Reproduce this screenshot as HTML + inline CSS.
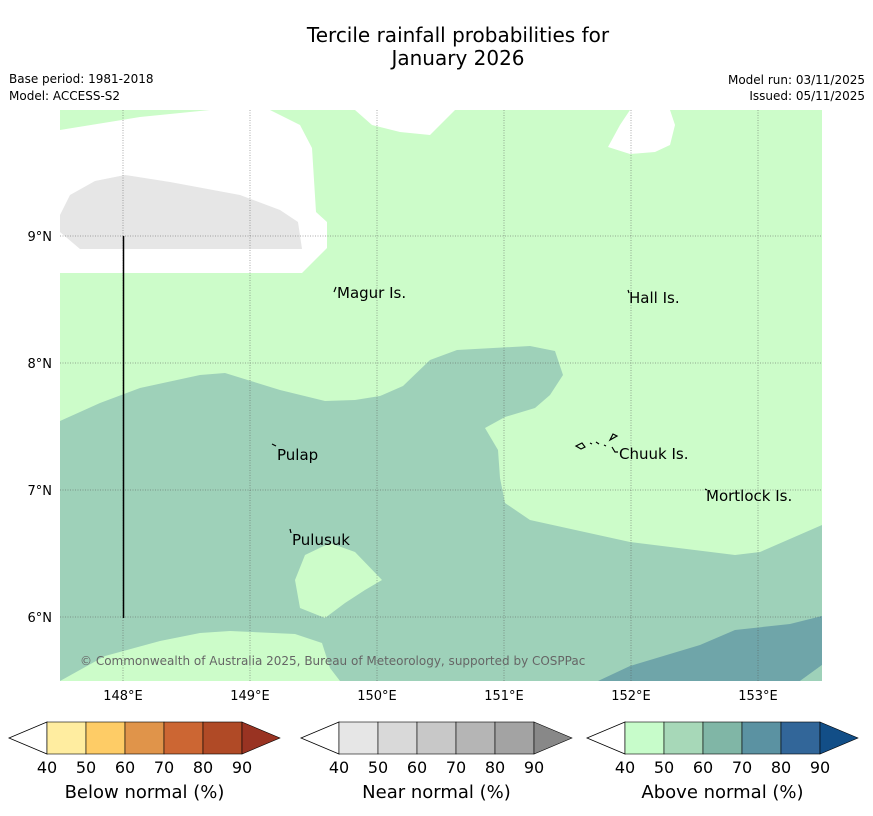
<!DOCTYPE html>
<html><head><meta charset="utf-8"><style>
body{margin:0;background:#fff;font-family:"DejaVu Sans","Liberation Sans",sans-serif}
svg{display:block}
</style></head><body>
<svg width="873" height="816" viewBox="0 0 873 816" font-family="DejaVu Sans, Liberation Sans, sans-serif">
<text x="458" y="42" text-anchor="middle" font-size="20">Tercile rainfall probabilities for</text>
<text x="458" y="65" text-anchor="middle" font-size="20">January 2026</text>
<text x="9" y="83" font-size="12">Base period: 1981-2018</text>
<text x="9" y="100" font-size="12">Model: ACCESS-S2</text>
<text x="865" y="84" font-size="12" text-anchor="end">Model run: 03/11/2025</text>
<text x="865" y="100" font-size="12" text-anchor="end">Issued: 05/11/2025</text>
<g>
<rect x="60" y="110" width="762" height="571" fill="#ccfcc9"/>
<polygon fill="#fff" points="60,130 140,117 210,110 270,110 300,125 312,148 316,212 327,222 327,248 302,273 60,273"/>
<polygon fill="#fff" points="355,110 372,125 400,132 430,135 455,110"/>
<polygon fill="#fff" points="630,110 620,125 608,147 630,154 655,152 670,145 675,125 670,110"/>
<polygon fill="#e6e6e6" points="60,215 70,195 95,181 125,175 170,182 240,195 280,210 298,222 302,249 80,249 60,232"/>
<polygon fill="#9ed1b9" points="60,421 100,403 140,388 200,375 225,373 280,390 325,401 355,400 380,396 403,386 430,360 457,350 530,346 555,351 563,375 550,395 535,408 505,417 485,428 498,450 500,478 505,503 530,520 630,542 735,555 760,552 822,525 822,681 60,681"/>
<polygon fill="#ccfcc9" points="295,580 305,555 330,543 355,552 382,580 365,590 345,603 325,618 300,608"/>
<polygon fill="#ccfcc9" points="60,681 105,656 160,641 200,633 230,631 295,634 322,643 330,668 340,681"/>
<polygon fill="#6fa5a9" points="598,681 630,666 700,645 735,630 790,624 822,616 822,665 800,681"/>
<polygon fill="#9ed1b9" points="800,681 822,665 822,681"/>
<g stroke="#555" stroke-width="0.5" stroke-dasharray="1,1.5">
<line x1="123" y1="110" x2="123" y2="681"/><line x1="250" y1="110" x2="250" y2="681"/><line x1="377" y1="110" x2="377" y2="681"/><line x1="504" y1="110" x2="504" y2="681"/><line x1="631" y1="110" x2="631" y2="681"/><line x1="758" y1="110" x2="758" y2="681"/>
<line x1="60" y1="236" x2="822" y2="236"/><line x1="60" y1="363" x2="822" y2="363"/><line x1="60" y1="490" x2="822" y2="490"/><line x1="60" y1="617" x2="822" y2="617"/>
</g>
<line x1="123.5" y1="236" x2="123.5" y2="618" stroke="#000" stroke-width="1.5"/>
<g font-size="15">
<text x="337" y="298">Magur Is.</text><text x="629" y="303">Hall Is.</text>
<text x="277" y="460">Pulap</text><text x="619" y="459">Chuuk Is.</text>
<text x="706" y="501">Mortlock Is.</text><text x="292" y="545">Pulusuk</text>
</g>
<g stroke="#000" fill="none" stroke-width="1.2">
<path d="M334,292 l2,-5"/><path d="M628,290 l1,3"/><path d="M272,444 l4,2"/><path d="M290,529 l1,4"/><path d="M705,489 l2,1"/>
<path d="M576,446 l6,-3 l3,4 l-4,2z M590,443 l2,1 M596,442 l3,2 M604,445 l2,1 M610,440 l3,-6 l4,2z M612,447 l3,5 l3,0"/>
</g>
<text x="80" y="665" font-size="12" fill="#666">© Commonwealth of Australia 2025, Bureau of Meteorology, supported by COSPPac</text>
</g>
<g font-size="13" text-anchor="middle">
<text x="123" y="700">148°E</text><text x="250" y="700">149°E</text><text x="377" y="700">150°E</text><text x="504" y="700">151°E</text><text x="631" y="700">152°E</text><text x="758" y="700">153°E</text>
</g>
<g font-size="13" text-anchor="end">
<text x="52" y="241">9°N</text><text x="52" y="368">8°N</text><text x="52" y="495">7°N</text><text x="52" y="622">6°N</text>
</g>
<g id="bars"></g>
</svg>
<script>
const bins = ["40","50","60","70","80","90"];
const belowColors = ["#ffeda0","#fecc66","#e0944a","#cc6633","#b04a26","#993322"];
const nearColors = ["#e6e6e6","#d9d9d9","#c8c8c8","#b5b5b5","#a3a3a3","#888888"];
const aboveColors = ["#c7fcca","#a7d8b8","#80b6a6","#5b92a2","#326699","#124e87"];
const titles = ["Below normal (%)","Near normal (%)","Above normal (%)"];
const starts = [47,339,625];
const ns="http://www.w3.org/2000/svg";
const g=document.getElementById('bars');


[belowColors,nearColors,aboveColors].forEach((cols,k)=>{
  const x0=starts[k], w=39, y0=722, h=32;
  const tri=document.createElementNS(ns,'polygon');
  tri.setAttribute('points',`${x0},${y0} ${x0-38},${y0+h/2} ${x0},${y0+h}`);
  tri.setAttribute('fill','#fff');tri.setAttribute('stroke','#000');tri.setAttribute('stroke-width','0.8');
  
  
  g.appendChild(tri);
  for(let i=0;i<5;i++){
    const r=document.createElementNS(ns,'rect');
    r.setAttribute('x',x0+i*w);r.setAttribute('y',y0);r.setAttribute('width',w);r.setAttribute('height',h);
    r.setAttribute('fill',cols[i]);r.setAttribute('stroke','#000');r.setAttribute('stroke-width','0.6');
    
    
    g.appendChild(r);
  }
  const ext=document.createElementNS(ns,'polygon');
  const xe=x0+5*w;
  ext.setAttribute('points',`${xe},${y0} ${xe+38},${y0+h/2} ${xe},${y0+h}`);
  ext.setAttribute('fill',cols[5]);ext.setAttribute('stroke','#000');ext.setAttribute('stroke-width','0.6');
  
  
  g.appendChild(ext);
  bins.forEach((b,i)=>{
    const t=document.createElementNS(ns,'text');
    t.setAttribute('x',x0+i*w);t.setAttribute('y',773);t.setAttribute('font-size','16');t.setAttribute('text-anchor','middle');
    t.textContent=b;
    
    
    g.appendChild(t);
  });
  const tt=document.createElementNS(ns,'text');
  tt.setAttribute('x',x0+2.5*w);tt.setAttribute('y',798);tt.setAttribute('font-size','18');tt.setAttribute('text-anchor','middle');
  tt.textContent=titles[k];
  
  
  g.appendChild(tt);
});
</script>
</body></html>
